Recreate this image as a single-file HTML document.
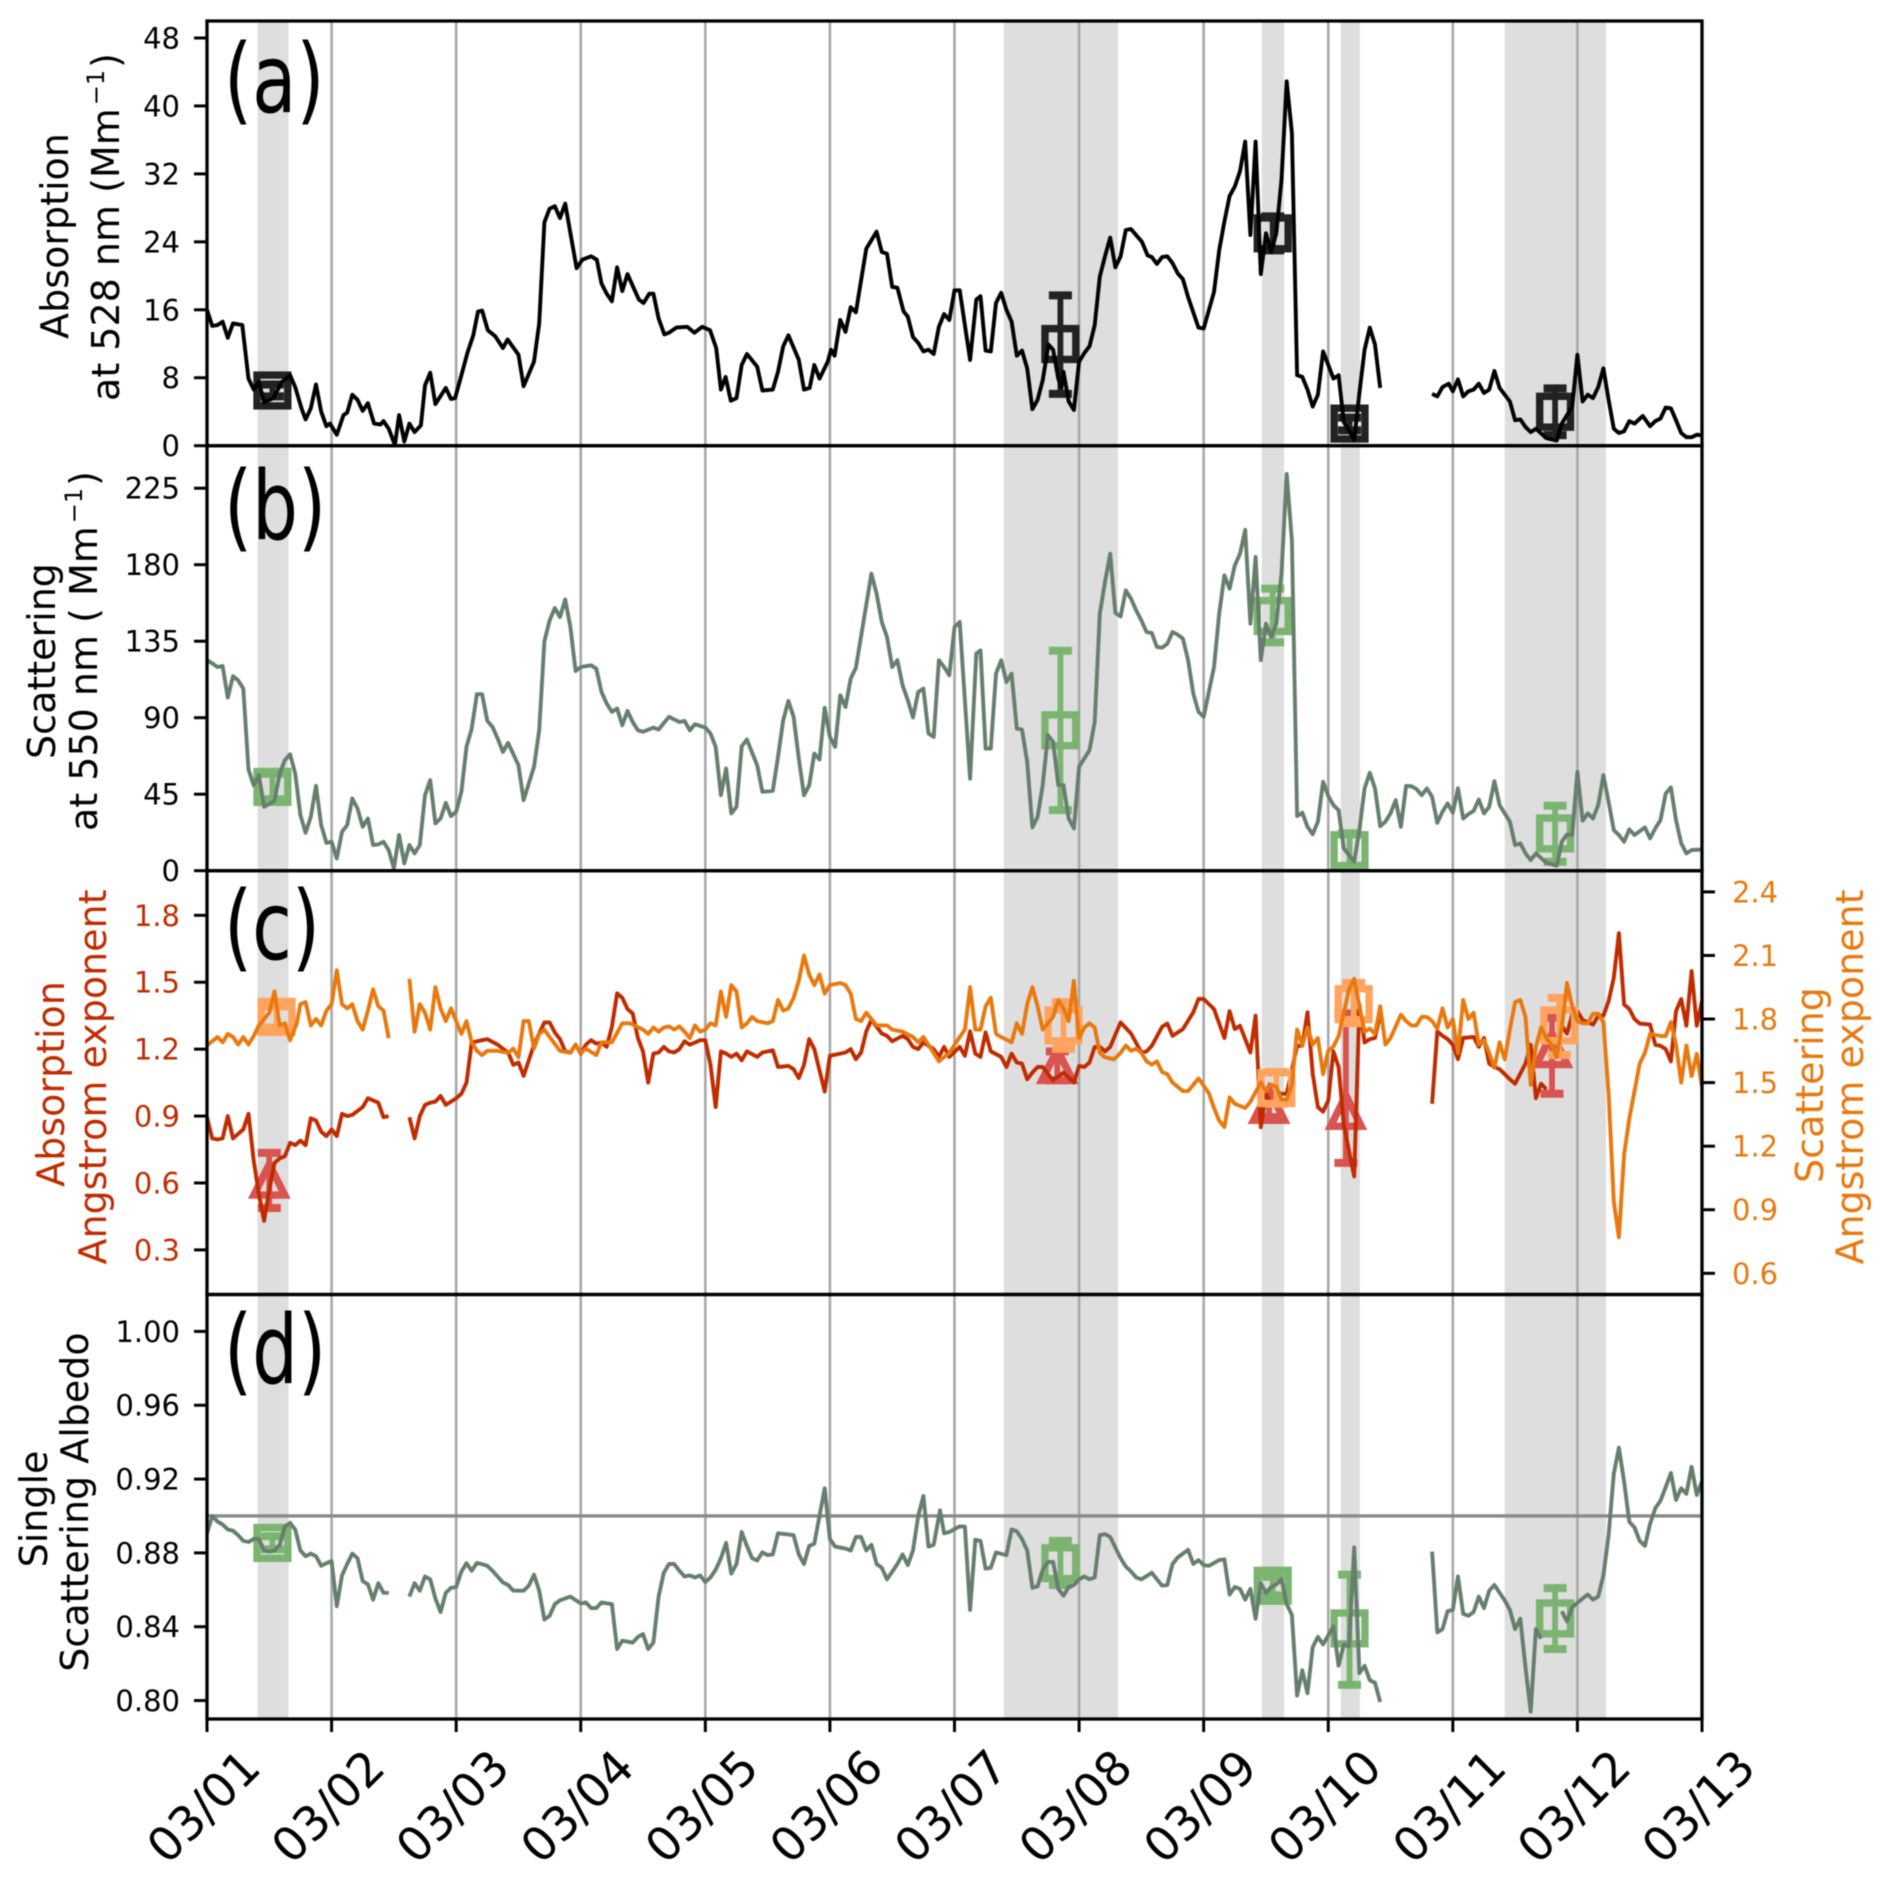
<!DOCTYPE html>
<html lang="en">
<head>
<meta charset="utf-8">
<title>Aerosol optical properties time series</title>
<style>
html,body{margin:0;padding:0;background:#fff;width:1892px;height:1890px;overflow:hidden}
svg{display:block;filter:blur(0.5px)}
text{font-family:"DejaVu Sans","Liberation Sans",sans-serif}
</style>
</head>
<body>
<svg id="chart" xmlns="http://www.w3.org/2000/svg" width="1892" height="1890" viewBox="0 0 1892 1890"></svg>
<script>
const dayLabels=["03/01","03/02","03/03","03/04","03/05","03/06","03/07","03/08","03/09","03/10","03/11","03/12","03/13"];
const spanStart=[9.75,153.5,203.2,218.4,250];
const spanEnd=[15.7,175.5,207.5,222.1,269.5];
const absTicks=[0,8,16,24,32,40,48];
const scaTicks=[0,45,90,135,180,225];
const aaeTicks=[0.3,0.6,0.9,1.2,1.5,1.8];
const saeTicks=[0.6,0.9,1.2,1.5,1.8,2.1,2.4];
const ssaTicks=[0.80,0.84,0.88,0.92,0.96,1.00];
const ssaReference=0.9;

const absHours=[0,1,2,3,4,5,6.8,8,9,10,
11,12.8,14.4,16,17,18.2,19,20,21,22,
23,23.7,25,26.3,27,28,29,30,31,32.2,
33.4,34,35,36.2,37,38,39,40,41.2,42,
43,44,46,47,47.8,49,50.2,51.3,52.2,53,
54.1,55.5,57,57.9,60,61,63,64,65,66,
67,68,69,71.2,72.3,74,75.1,76,77,78,
79,80,81,82.1,83.2,84.1,85.2,86,87,88.1,
89,90.4,92.5,93.9,95.4,96.9,98.1,99,99.9,100.9,
102,103,104,106,107,109,110,111,112,114,
115,116.1,117,118,119.6,120.2,120.9,122,123,124,
125,125.8,127,129,130,131,132,133,134.2,135,
136,137,138,139,140,141,142,143,144,145,
147,148.2,149,150,151,152,153,154,155,156,
157,158,159,160,161,162.1,163,164,164.6,165,
166,167,168,169,170,171,172,173,174,175,
176,177,178,180.1,181.2,182,183,184,185,186,
187,188,189,191,192,194,195,196,197,198,
199,200,201,202,203,204,205,206,207,208,
209,210,211,212,213,214,215,216,217,218,
219,220,221,222,223,224,225,226,230,236,
237,238,239.2,240,241,242,243,244,245,246,
247,248,249,251,252,253,254,255,256,258,
260,261,262,263,264,265,266,267,268,269,
270,271,272,273,274,275,276.6,278,279,280,
281,282,283,284,285,286,287,288];
const absValues=[16,14.1,14.2,14.6,12.7,14.4,14.2,7.9,6.6,7.5,
5.1,5.6,7.5,8.3,6.9,4.4,3.1,4.4,7.2,4,
2.3,2.6,1.3,3.6,3.9,6,5.4,4.1,5,2.6,
2.5,2.9,2,0.1,3.6,0.5,2.6,1.6,2.4,7.1,
8.6,4.9,6.8,5.5,5.6,8.3,11,13,15.8,15.9,
13.6,12.9,11.5,12.5,10.7,7,9.9,14.4,26.3,27.9,
28.2,26.8,28.5,20.9,21.9,22.3,21.9,19.1,17.9,17,
21,18.2,20.2,18.7,17.2,16.8,17.9,17.9,15,13.1,
13.3,13.9,14,13.3,14,13.6,11.5,6.6,8.1,5.3,
5.6,9.5,10.8,9.3,6.5,6.6,8.7,11.7,13,10.1,
6.6,6.8,9.5,7.9,9.9,11.3,10.6,14.8,13.4,16.3,
15.7,18.7,23.2,25.2,22.8,22.6,18.7,18.6,15.8,15.2,
12.8,12.1,11.1,11.3,10.8,14,15.5,14.8,18.3,18.3,
10.1,17.2,17.6,11.2,11.1,16.8,18,16,14.6,10.6,
11.2,9.1,4.3,5.4,7.7,11.9,11.3,7.9,6.8,8.7,
5.2,4.2,9.9,10.9,11.7,14.2,19.9,22.3,24.5,21,
22.3,25.4,25.5,24,22.4,22.2,21.4,22.2,22.3,21.5,
20.3,19.6,17.5,13.9,13.8,18.1,23,26.4,29.4,30.5,
32.3,35.8,24.8,35.8,20.2,25,22.8,25,31.3,42.9,
36.8,8.3,8.1,6.6,4.6,6,11.1,9.5,7.9,8.3,
2.8,1.8,0.7,6.2,11.3,13.9,11.9,6.8,null,6.1,
5.8,6.9,7.3,6.4,7.8,5.8,6.4,6.6,7.3,6.2,
6.6,8.8,6.8,5.2,3,3.1,2.2,1.6,2,0.9,
0.6,2.6,3.6,4.6,10.7,5.2,6,5.6,6.9,9.1,
5.4,2,1.5,1.7,2.9,2.6,3.5,2.3,2.9,3.2,
4.5,4.4,3,1.5,1,1,1.3,1.2];

const scaHours=[0,1,2,3,4,5,6,7,8,9,
10,11,13,14,15,16,17,18,19,20,
21,22,23,24,25,26,27,28,29,30,
31,32,33,34,35,36,37,38,39,40,
41,42,43,44,45,46,47,48,49,50,
51,52,53,54,55,56,57,58,60,61,
63,64,65,66,67,68,69,70,71,72,
74,75,76,77,78,79,80,81,82,83,
84,86,87,88,89,91,92,93,94,96,
97,98,99,100,101,102,103,104,106,107,
109,110,111,112,113,114,115,116,117,118,
119,120,121,122,123,124,125,126.5,128,129,
130,131,132,133,134,135,136,137,138,139,
140,141,142,143,144,145,147,148.2,149,150,
151,152,153,154,155,156,157,158,159,160,
161,162,163,164,165,166,167,168,170,171,
172,173,174,175,176,177,178,179,180,181,
182,183,184,185,186,187,188,189,190,191,
192,194,195,196,197,198,199,200,201,202,
203,204,205,206,207,208,209,210,211,212,
213,214,215,216,217,218,219,220,221,222,
223,224,225,226,227,228,229,230,231,232,
233,234,235,236,237,238,239,240,241,242,
243,244,245,246,247,248,249,251,252,253,
254,255,256,258,260,261,262,263,264,265,
266,267,268,269,270,271,272,273,274,275,
277,278,279,280,281,282,283,284,285,286,288];
const scaValues=[123.8,122,119.8,120.4,101.8,114.4,112,107.1,59.5,50.3,
56.2,37.6,41.1,57.2,65,68.5,57.2,32.7,22.3,31.7,
49.9,26.8,16.4,17,7.2,22.9,26.8,42.5,36.6,25.8,
30.7,15.1,15.5,17,12.1,1.4,21,4.3,15.1,10.2,
15.1,44.4,53.3,27.8,30.7,39.9,32.1,34.7,46.4,72.8,
83.6,103.8,103.8,88.1,84.6,77.7,69.9,75.2,62,41.5,
61.1,82.6,134.9,147.2,154.5,149.2,159.6,143.3,117.5,119.8,
120.8,118.9,105.1,98.3,93.4,95.4,85.6,94,87.5,82.6,
81.7,84.2,83,86.9,90.5,87.5,88.1,82.6,86.2,84.2,
80.7,72.8,44.4,60.1,33.7,37.6,73.2,77.1,62,46.4,
47,67,88.5,99.9,90.5,66,44.4,50.3,68.9,65.4,
95.8,78.7,72.8,103.2,96.3,113,119.4,147.2,174.7,162.9,
146.3,137.5,119.8,123.8,109,100.3,90.1,105.1,107.1,80.7,
78.7,123.8,119.8,115,143.3,146.3,54.2,127.7,129.6,71.9,
71.9,115.9,123.8,111,115.9,83.6,83,64,25.5,31.7,
50.3,79.7,75.8,50.3,50.3,30.7,24.9,61.1,70.9,87.5,
151.2,169.8,186.4,151.6,149.6,164.9,160,153.1,147.2,140.4,
139.8,131.6,131.2,133.5,140.4,138.8,136.5,123.8,104.2,93.4,
90.5,119.8,151.2,173.7,165.9,179.6,186.4,200.5,145.3,184.5,
123.8,145.3,137.5,145.3,174.7,233.4,194.2,32.1,34.1,25.8,
21.5,28.8,52.3,43.9,38.6,35.6,13.1,9.2,5.3,23.9,
48.4,57.6,48.4,26.2,28.8,33.7,41.5,25.8,49.9,49.7,
48,44.4,48.4,43.5,28.2,34.7,39.6,34.1,48.4,30.7,
33.3,35.2,41.9,33.7,37.6,52.7,38.6,28.8,15.1,16.1,
10.2,6.3,10.2,4.7,2.9,17,21.3,21,58.2,29.4,
33.7,30.7,38.6,56.2,40.5,23.9,21,17,24.3,21,
25.5,19,24.9,29.8,45.4,49,29.8,16.1,10.2,12.1,12.5];

const aaeHours=[0,1,2,3,4,5,6,7,8,9,
10,11,12,13,14,15,16,17,18,19,
20,21,22,23,24,25,26,27,28,30,
31,33,34,35,37,39,40,41,42,43,
44,45,46,47,48,49,50,51,53,54,
56,58,59,60,61,63,65,66,67,68,
69,70,71,72,73,74,75,76,77,78,
79,80,81,82,83,84,85,86,87,88,
89,90,91,92,93,94,95,96,97,98,
99,100,101,102,103,104,106,107,109,110,
112,113,114,115,116,117,119,120,122,123,
124,125,126,127,128,130,131,132,134,135,
136,137,138,140,141,142,143,145,146,147,
148,149,150,151,153,154,155,156,157,158,
159,160,161,163,165,167,168,169,170,171,
172,173,174,176,178,180,181,182,184,185,
186,188,190,191,192,194,196,197,198,199,
201,202,203,204,205,207,208,210,211,212,
213,214,215,216,217,218,219,221,222,223,
224,225,226,231,236,237,238,239,240,241,
242,244,245,246,247,248,249,251,252,254,
255,256,257,258,260,261,262,263,264,265,
267,268,269,270,271,272,273,274,275,276,
278,279,280,281,282,283,284,285,286,287,288];
const aaeValues=[0.895,0.8,0.795,0.8,0.9,0.8,0.82,0.84,0.91,0.7,
0.55,0.43,0.57,0.69,0.71,0.72,0.78,0.77,0.79,0.77,
0.89,0.88,0.83,0.81,0.84,0.81,0.91,0.9,0.905,0.94,
0.98,0.96,0.895,0.9,null,0.895,0.8,0.9,0.95,0.96,
0.965,0.99,0.95,0.965,0.98,1,1.05,1.23,1.24,1.245,
1.22,1.185,1.13,1.14,1.08,1.22,1.32,1.32,1.275,1.245,
1.19,1.185,1.22,1.18,1.22,1.24,1.225,1.23,1.21,1.3,
1.45,1.43,1.38,1.36,1.25,1.19,1.05,1.18,1.185,1.21,
1.19,1.185,1.2,1.235,1.22,1.23,1.24,1.24,1.13,0.94,
1.19,1.18,1.165,1.18,1.15,1.19,1.165,1.185,1.195,1.12,
1.125,1.11,1.07,1.13,1.245,1.2,1.01,1.17,1.18,1.185,
1.2,1.155,1.185,1.28,1.33,1.27,1.26,1.235,1.26,1.245,
1.21,1.2,1.23,1.2,1.165,1.21,1.165,1.21,1.17,1.28,
1.18,1.165,1.275,1.19,1.165,1.12,1.18,1.14,1.135,1.065,
1.095,1.12,1.12,1.06,1.095,1.05,1.125,1.12,1.14,1.21,
1.21,1.19,1.21,1.32,1.27,1.185,1.19,1.215,1.3,1.315,
1.26,1.29,1.365,1.425,1.425,1.38,1.25,1.37,1.29,1.305,
1.185,1.35,0.85,1,0.95,1,1,1.215,1.215,1.365,
1.09,0.94,0.92,0.97,1.19,1.12,0.86,0.63,1.4,1.23,
1.245,1.25,1.36,null,0.955,1.28,1.26,1.245,1.22,1.155,
1.25,1.255,1.21,1.25,1.135,1.12,1.11,1.065,1.045,1.135,
1.22,0.98,1.045,1.02,null,1.305,1.27,1.355,1.37,1.33,
1.31,1.35,1.35,1.415,1.52,1.72,1.4,1.38,1.335,1.315,
1.31,1.22,1.215,1.2,1.145,1.37,1.425,1.305,1.55,1.305,1.415];

const saeHours=[0,2,3,4,5,6,7,8,9,10,
12,13,14,15,16,17.3,18,19,20,21,
22,23,24,25,26,27,28,29,30,31,
32,33,34,35,37,39,40,41,42,43,
44,45,46,47,48,49,50,51,52,53,
54,56,58,59,60,61,62,63,64,65,
66,68,70,71,72,73,75,76,78,80,
81.5,84,85,86,87,88,89,90,91,92,
93,94,95,96,97,98,99,100,101,102,
103,104,105,106,108,109,110,111,112,113,
114,115,116,117,118,119,120,122,123,124,
125,126,127,128,129,131,132,134,136,137,
138,140,141,143,145,146,147,148,149,150,
151,152,153,155,156,157,158,159,160,161,
163,164,165,166,167,168,169,170,171,172,
173,174.7,176,177,178,179,180,181,182,183,
184,185,186,187,188,189,191,193,194,195,
196,197,198,200,201,203,204,205,206,207,
208,209,210,211,212,213,214,215,216,217,
218,219,220,221,222,223,224,225,226,227,
228,230,231,232,233,234,235,236,237,238,
239,240,241,242,243,244,245,246,247,248,
249,250,251,252,253,254,255,256,257,258,
259,260,261,262,263,264,265,266,267,268,
269,270,271,272,273,274,275,276,277,278,
280,281,282,283,284,285,286,287,288];
const saeValues=[1.675,1.715,1.69,1.73,1.715,1.68,1.715,1.68,1.72,1.77,
1.83,1.93,1.77,1.78,1.7,1.78,1.87,1.88,1.77,1.8,
1.77,1.84,1.87,2.03,1.87,1.85,1.87,1.79,1.75,1.84,
1.94,1.86,1.84,1.71,null,1.99,1.74,1.87,1.83,1.75,
1.95,1.85,1.79,1.85,1.79,1.73,1.79,1.69,1.65,1.63,
1.65,1.65,1.64,1.66,1.62,1.79,1.79,1.66,1.73,1.75,
1.715,1.65,1.64,1.68,1.64,1.66,1.63,1.69,1.69,1.78,
1.78,1.75,1.73,1.76,1.74,1.76,1.765,1.75,1.765,1.74,
1.71,1.77,1.74,1.75,1.78,1.77,1.93,1.81,1.96,1.93,
1.76,1.78,1.81,1.79,1.78,1.79,1.89,1.84,1.85,1.9,
1.98,2.1,2.01,1.96,2.01,1.92,1.96,1.97,1.96,1.92,
1.8,1.79,1.83,1.8,1.77,1.77,1.75,1.74,1.715,1.69,
1.715,1.64,1.6,1.64,1.715,1.75,1.95,1.75,1.75,1.86,
1.9,1.73,1.715,1.69,1.78,1.73,1.87,1.95,1.86,1.75,
1.81,1.89,1.85,1.79,1.98,1.71,1.76,1.78,1.76,1.64,
1.62,1.61,1.64,1.675,1.65,1.66,1.64,1.6,1.585,1.6,
1.55,1.54,1.5,1.48,1.46,1.46,1.52,1.45,1.38,1.32,
1.29,1.43,1.4,1.38,1.41,1.5,1.46,1.49,1.48,1.42,
1.42,1.49,1.75,1.675,1.76,1.68,1.71,1.54,1.65,1.67,
1.72,1.83,1.94,1.99,1.86,1.74,1.755,1.73,1.86,1.68,
1.71,1.82,1.79,1.77,1.77,1.81,1.81,1.79,1.755,1.85,
1.76,1.8,1.64,1.89,1.8,1.83,1.68,1.7,1.64,1.57,
1.69,1.61,1.75,1.88,1.89,1.81,1.49,1.67,1.76,1.71,
1.68,1.62,1.76,1.97,1.86,1.79,1.78,1.78,1.825,1.825,
1.785,1.45,0.94,0.77,1.16,1.33,1.46,1.59,1.64,1.73,
1.72,1.72,1.785,1.68,1.5,1.675,1.53,1.635,1.48];

const ssaHours=[0,1,2,3,4,5,6,7,8,9,
10,11,12,13,14,15,16,17,18,19,
20,21,22,23,24,25,26,27,28,29,
30,31,32,33,34,35,37,39,40,41,
42,43,44,45,46,47,48,49,50,51,
52,53,54,55,57,58,59,61,62,63,
64,65,66,67,68,70,72,73,74,75,
76,78,79,80,82,83,84,85,86,87,
88,89,90,91,92,93,94,95,96,97,
98,99,100,101,102,103,104,105,106,107,
108,109,110,112,113,114,115,116,117,118,
119,120,121,123,124,125,126,127,128,129,
130,131,133,134,135,136,137,138,139,140,
141.2,142,143,145,146,147,148,149,150,151,
152,154,155,156,157,158,159,160,161,162,
163,164,165,166,167,168,169,170,171,172,
173,174,176,177,178,179,180,182,183,184,
185,186,187,189,190,191,192,193,195,196,
197,198,199,200,201,202,203,204,205,206,
207,208,209,210,211,212,213,214,215,217,
218,219,220,221,222,223,224,225,226,231,
236,237,238,239,240,241,242,243,244,245,
246,247,248,250,251,252,253,254,255,256,
257,259,261,262,263,265,266,267,268,269,
270,271,272,273,274,275,276,277,278,279,
280,281,282,283,284,285,286,287,288];
const ssaValues=[0.8906,0.9,0.897,0.8954,0.8927,0.892,0.8896,0.8865,0.8859,0.8875,
0.8875,0.8813,0.8807,0.8813,0.8844,0.8942,0.8963,0.8927,0.8813,0.8782,
0.8796,0.8782,0.873,0.8744,0.8755,0.8511,0.8678,0.874,0.8796,0.8771,
0.8647,0.863,0.8547,0.8636,0.8584,0.8584,null,0.8563,0.8636,0.8595,
0.8672,0.8657,0.8553,0.848,0.8584,0.8611,0.8615,0.8699,0.8744,0.8703,
0.8746,0.8738,0.873,0.8703,0.864,0.8626,0.8595,0.8595,0.8622,0.8682,
0.8595,0.8439,0.8459,0.8522,0.8543,0.8563,0.8526,0.8532,0.8501,0.8501,
0.8532,0.8522,0.8279,0.8324,0.8314,0.8345,0.836,0.8279,0.8314,0.8563,
0.8692,0.874,0.874,0.8703,0.8672,0.8678,0.8667,0.8678,0.8642,0.8667,
0.8709,0.8771,0.8854,0.8688,0.874,0.8913,0.8838,0.8771,0.8759,0.8803,
0.8788,0.8792,0.8906,0.89,0.8896,0.8792,0.874,0.8838,0.885,0.9,
0.915,0.8875,0.8834,0.8823,0.8813,0.8886,0.8886,0.8813,0.8844,0.874,
0.8719,0.8657,0.874,0.8792,0.8734,0.8813,0.9,0.9108,0.8834,0.8844,
0.9031,0.8906,0.8913,0.8944,0.8942,0.8491,0.8871,0.8865,0.8715,0.8719,
0.8802,0.8788,0.8927,0.8917,0.8875,0.8813,0.8611,0.8619,0.8709,0.8751,
0.8751,0.8605,0.8568,0.8615,0.8626,0.8657,0.8672,0.8657,0.8667,0.8896,
0.8902,0.8886,0.8771,0.8726,0.8699,0.8667,0.8657,0.8692,0.8657,0.8622,
0.8626,0.874,0.8775,0.8817,0.874,0.8761,0.8734,0.873,0.8761,0.8765,
0.8574,0.8615,0.8605,0.8547,0.8605,0.8443,0.8636,0.8584,0.8615,0.863,
0.8657,0.8522,0.8464,0.8027,0.8164,0.804,0.8289,0.8345,0.8304,0.8401,
0.8189,0.8304,0.8293,0.883,0.8148,0.8189,0.811,0.8096,0.7992,null,
0.8807,0.837,0.8387,0.8484,0.8491,0.8672,0.847,0.8459,0.848,0.8563,
0.8501,0.8595,0.8626,0.8543,0.8491,0.8387,0.8443,0.8179,0.794,0.8387,
0.8335,null,0.8484,0.8428,0.8505,0.8553,0.8574,0.8547,0.8563,0.8678,
0.8896,0.9229,0.937,0.9187,0.8969,0.8938,0.8865,0.8838,0.8958,0.9042,
0.9083,0.9156,0.9233,0.9087,0.915,0.912,0.9266,0.9114,0.9187];

const absMarkHours=[12.6,164.4,205.3,220.1,259.7];
const absMarkValues=[6.5,11.97,25,2.6,4];
const absMarkLow=[5.8,6.1,23,1.8,1.25];
const absMarkHigh=[7.2,17.7,27,3.3,6.75];
const scaMarkHours=[12.6,164.4,205.3,220.1,259.7];
const scaMarkValues=[49.3,82.6,149.8,12.1,21.9];
const scaMarkLow=[42,35.6,134.3,2,5.3];
const scaMarkHigh=[57,129.4,165.9,22,38.2];
const aaeMarkHours=[12,163.8,204.6,219.4,259.1];
const aaeMarkValues=[0.615,1.129,0.95,0.923,1.2];
const aaeMarkLow=[0.488,1.06,0.895,0.69,1.0];
const aaeMarkHigh=[0.735,1.19,0.995,1.36,1.34];
const saeMarkHours=[13.4,165,206,220.9,260.5];
const saeMarkValues=[1.81,1.77,1.474,1.87,1.77];
const saeMarkLow=[1.76,1.66,1.4,1.78,1.63];
const saeMarkHigh=[1.86,1.88,1.55,1.97,1.9];
const ssaMarkHours=[12.6,164.4,205.3,220.1,259.7];
const ssaMarkValues=[0.8854,0.8744,0.8622,0.8391,0.8445];
const ssaMarkLow=[0.882,0.8626,0.857,0.8085,0.8279];
const ssaMarkHigh=[0.889,0.8865,0.867,0.8682,0.8609];

const svg=document.getElementById('chart');
const NS='http://www.w3.org/2000/svg';
const L=207,R=1702,TOTAL_HOURS=288;
const P=[{t:21,b:445.7},{t:445.7,b:870.7},{t:870.7,b:1294.5},{t:1294.5,b:1719}];
const COL={black:'#000',sca:'#667f6d',aae:'#bf2c00',sae:'#e8790f',shade:'#dedede',grid:'#a8a8a8',ref:'#8a8a8a',
 mBlack:'#222',mGreen:'#7ab470',mRed:'#d9534f',mOrange:'#ffa45e'};

function xH(h){return L+(h/TOTAL_HOURS)*(R-L);}
function scale(panel,lo,hi){const p=P[panel];return v=>p.b-(v-lo)/(hi-lo)*(p.b-p.t);}
const yAbs=scale(0,0,50),yScaAxis=scale(1,0,250),yAae=scale(2,0.1,2.0),ySae=scale(2,0.5,2.5),ySsa=scale(3,0.79,1.02);

function mk(tag,attrs,parent){
  const el=document.createElementNS(NS,tag);
  for(const k in attrs)el.setAttribute(k,attrs[k]);
  (parent||svg).appendChild(el);
  return el;
}
function group(name,parent){
  const g=mk('g',{},parent);
  
  
  return g;
}
const defs=mk('defs',{});
P.forEach((p,i)=>{
  const c=mk('clipPath',{id:'clip'+i},defs);
  mk('rect',{x:L,y:p.t,width:R-L,height:p.b-p.t},c);
});

function drawBackground(i,name){
  const g=group(name+'-background');
  const p=P[i];
  spanStart.forEach((s,k)=>{
    const r=mk('rect',{x:xH(s),y:p.t,width:xH(spanEnd[k])-xH(s),height:p.b-p.t,fill:COL.shade},g);
    
    
  });
  dayLabels.forEach((d,k)=>{
    if(k===0||k===dayLabels.length-1)return;
    const x=xH(k*24);
    const l=mk('line',{x1:x,x2:x,y1:p.t,y2:p.b,stroke:COL.grid,'stroke-width':2.6},g);
    
    
  });
}
function drawLine(i,hours,values,y,color,name,width){
  let d='',pen=false;
  hours.forEach((h,k)=>{
    const v=values[k];
    if(v===null||v===undefined){pen=false;return;}
    d+=(pen?'L':'M')+xH(h).toFixed(1)+' '+y(v).toFixed(1);
    pen=true;
  });
  const el=mk('path',{d:d,fill:'none',stroke:color,'stroke-width':width||3.9,'stroke-linejoin':'round','clip-path':'url(#clip'+i+')'});
  
  
}
function drawMarkers(i,hours,values,low,high,y,color,shape,name){
  const g=group(name);
  g.setAttribute('clip-path','url(#clip'+i+')');
  hours.forEach((h,k)=>{
    const x=xH(h),cy=y(values[k]),top=y(high[k]),bot=y(low[k]);
    const m=group(name+'-point',g);
    const stem=mk('line',{x1:x,x2:x,y1:top,y2:bot,stroke:color,'stroke-width':5.8},m);
    
    
    [top,bot].forEach(c=>{
      const cap=mk('line',{x1:x-11.5,x2:x+11.5,y1:c,y2:c,stroke:color,'stroke-width':8},m);
      
      
    });
    let s;
    if(shape==='square'){
      s=mk('rect',{x:x-15.4,y:cy-15.4,width:30.8,height:30.8,fill:'none',stroke:color,'stroke-width':7.4},m);
    }else{
      s=mk('path',{d:'M'+x+' '+(cy-15.4)+'L'+(x-15.4)+' '+(cy+15.4)+'L'+(x+15.4)+' '+(cy+15.4)+'Z',fill:'none',stroke:color,'stroke-width':7.4,'stroke-linejoin':'miter'},m);
    }
    
    
  });
}
function drawFrame(i,name){
  const p=P[i];
  const el=mk('rect',{x:L,y:p.t,width:R-L,height:p.b-p.t,fill:'none',stroke:'#000','stroke-width':3.3});
  
  
}
function drawYTicks(ticks,y,side,color,digits,name){
  const g=group(name);
  ticks.forEach(t=>{
    const py=y(t);
    const x0=side==='left'?L:R,x1=side==='left'?L-13:R+13;
    const tk=mk('line',{x1:x0,x2:x1,y1:py,y2:py,stroke:'#000','stroke-width':3},g);
    
    
    const tx=mk('text',{x:side==='left'?L-27:R+30,y:py+10.5,'font-size':29,fill:color,'text-anchor':side==='left'?'end':'start'},g);
    tx.textContent=t.toFixed(digits);
    
    
  });
}
function vText(str,x,cy,color,name,sup,tail){
  const t=mk('text',{transform:'translate('+x+' '+cy+') rotate(-90)','text-anchor':'middle','font-size':38,fill:color});
  
  
  t.appendChild(document.createTextNode(str));
  if(sup){
    const s=mk('tspan',{'font-size':24,dy:-15,dx:3},t);
    s.textContent=sup;
    const e=mk('tspan',{dy:15,dx:2},t);
    e.textContent=tail;
  }
}
function panelLetter(str,y,name){
  const t=mk('text',{transform:'translate(224 '+y+') scale(0.76 1)','font-size':95,fill:'#000'});
  t.textContent=str;
  
  
}

drawBackground(0,'absorption-panel');
drawBackground(1,'scattering-panel');
drawBackground(2,'angstrom-panel');
drawBackground(3,'albedo-panel');

drawMarkers(0,absMarkHours,absMarkValues,absMarkLow,absMarkHigh,yAbs,COL.mBlack,'square','absorption-sample-marker');
drawLine(0,absHours,absValues,yAbs,'#000','absorption-line');
drawMarkers(1,scaMarkHours,scaMarkValues,scaMarkLow,scaMarkHigh,yScaAxis,COL.mGreen,'square','scattering-sample-marker');
drawLine(1,scaHours,scaValues,yScaAxis,COL.sca,'scattering-line');
drawMarkers(2,aaeMarkHours,aaeMarkValues,aaeMarkLow,aaeMarkHigh,yAae,COL.mRed,'triangle','absorption-exponent-sample-marker');
drawLine(2,aaeHours,aaeValues,yAae,COL.aae,'absorption-exponent-line');
drawMarkers(2,saeMarkHours,saeMarkValues,saeMarkLow,saeMarkHigh,ySae,COL.mOrange,'square','scattering-exponent-sample-marker');
drawLine(2,saeHours,saeValues,ySae,COL.sae,'scattering-exponent-line');
const refLine=mk('line',{x1:L,x2:R,y1:ySsa(ssaReference),y2:ySsa(ssaReference),stroke:COL.ref,'stroke-width':3.4});


drawMarkers(3,ssaMarkHours,ssaMarkValues,ssaMarkLow,ssaMarkHigh,ySsa,COL.mGreen,'square','albedo-sample-marker');
drawLine(3,ssaHours,ssaValues,ySsa,COL.sca,'albedo-line');

drawFrame(0,'absorption-panel');
drawFrame(1,'scattering-panel');
drawFrame(2,'angstrom-panel');
drawFrame(3,'albedo-panel');

drawYTicks(absTicks,yAbs,'left','#000',0,'absorption-y-axis');
drawYTicks(scaTicks,yScaAxis,'left','#000',0,'scattering-y-axis');
drawYTicks(aaeTicks,yAae,'left',COL.aae,1,'absorption-exponent-y-axis');
drawYTicks(saeTicks,ySae,'right',COL.sae,1,'scattering-exponent-y-axis');
drawYTicks(ssaTicks,ySsa,'left','#000',2,'albedo-y-axis');

vText('Absorption',68,236,'#000','absorption-y-title-line-1');
vText('at 528 nm (Mm',119,227,'#000','absorption-y-title-line-2','\u22121',')');
vText('Scattering',55,661,'#000','scattering-y-title-line-1');
vText('at 550 nm ( Mm',97,651,'#000','scattering-y-title-line-2','\u22121',')');
vText('Absorption',64,1084,COL.aae,'absorption-exponent-title-line-1');
vText('Angstrom exponent',106,1077,COL.aae,'absorption-exponent-title-line-2');
vText('Scattering',1823,1085,COL.sae,'scattering-exponent-title-line-1');
vText('Angstrom exponent',1863,1077,COL.sae,'scattering-exponent-title-line-2');
vText('Single',47,1509,'#000','albedo-y-title-line-1');
vText('Scattering Albedo',88,1502,'#000','albedo-y-title-line-2');

panelLetter('(a)',112,'panel-label-a');
panelLetter('(b)',539,'panel-label-b');
panelLetter('(c)',959,'panel-label-c');
panelLetter('(d)',1383,'panel-label-d');

const xAxis=group('time-x-axis');
dayLabels.forEach((d,k)=>{
  const x=xH(k*24);
  const tk=mk('line',{x1:x,x2:x,y1:P[3].b,y2:P[3].b+13,stroke:'#000','stroke-width':3},xAxis);
  
  
  const t=mk('text',{transform:'translate('+(x-3)+' 1807) rotate(-45)','text-anchor':'middle','dominant-baseline':'central','font-size':47,fill:'#000'},xAxis);
  t.textContent=d;
  
  
});
</script>
</body>
</html>
